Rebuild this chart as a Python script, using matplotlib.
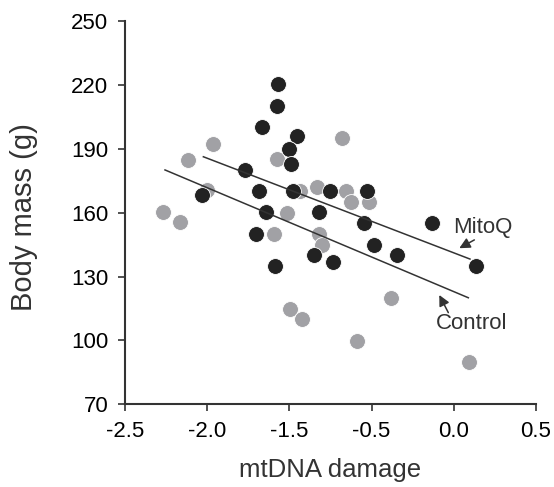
import matplotlib
matplotlib.use('Agg')
import matplotlib.pyplot as plt

plt.rcParams['font.family'] = ['Liberation Sans', 'DejaVu Sans']

# MitoQ group (black)
mitoq_x = [-1.385, -1.388, -1.498, -1.247, -1.305, -1.290, -1.624, -1.936,
           -1.524, -1.276, -1.004, -0.736, -1.469, -1.084, -1.542, -1.407,
           -1.120, -0.984, -0.755, -0.682, -0.515, -0.257, 0.062]
mitoq_y = [220.5, 210.4, 200.3, 196.2, 190.2, 183.0, 180.2, 168.3,
           170.3, 170.3, 170.3, 170.3, 160.2, 160.2, 150.1, 135.0,
           140.1, 136.9, 155.1, 144.9, 140.1, 155.1, 135.0]

# Control group (grey)
control_x = [-1.858, -2.038, -1.393, -0.918, -1.904, -2.220, -2.099, -1.320,
             -1.410, -1.223, -1.101, -0.887, -0.853, -0.721, -1.086, -1.062,
             -1.292, -1.207, -0.809, -0.558, 0.009]
control_y = [192.4, 185.1, 185.2, 195.4, 170.6, 160.2, 155.7, 160.1,
             150.1, 170.4, 172.3, 170.4, 165.1, 165.0, 150.1, 144.9,
             114.8, 110.0, 99.8, 120.0, 89.7]

# fitted lines (end points)
mitoq_line_x = [-1.928, 0.018]
mitoq_line_y = [186.4, 138.3]
control_line_x = [-2.208, 0.006]
control_line_y = [180.2, 120.1]

xtick_labels = ['-2.5', '-2.0', '-1.5', '-0.5', '0.0', '0.5']
yticks = [70, 100, 130, 160, 190, 220, 250]

fig = plt.figure(figsize=(5.54, 4.87), dpi=100)
ax = fig.add_axes([125 / 554, 1 - 404.3 / 487, 411 / 554, (404.3 - 21.5) / 487])

ax.scatter(control_x, control_y, s=130, color='#a1a1a5', edgecolors='white', linewidths=0.6, zorder=2)
ax.scatter(mitoq_x, mitoq_y, s=130, color='#222222', edgecolors='white', linewidths=0.6, zorder=3)

ax.plot(mitoq_line_x, mitoq_line_y, color='#333333', lw=1.1, zorder=4)
ax.plot(control_line_x, control_line_y, color='#333333', lw=1.1, zorder=4)

arrow = dict(arrowstyle='-|>', color='#333333', lw=1.1, mutation_scale=16, shrinkA=0, shrinkB=0)
ax.annotate('', xy=(-0.060, 143.4), xytext=(0.050, 147.3), arrowprops=arrow)
ax.annotate('', xy=(-0.206, 121.4), xytext=(-0.140, 113.1), arrowprops=arrow)
ax.text(0.113, 152.9, 'MitoQ', fontsize=16, color='#333333', ha='center', va='center')
ax.text(0.031, 108.1, 'Control', fontsize=16, color='#333333', ha='center', va='center')

ax.set_xlim(-2.5, 0.5)
ax.set_ylim(70, 250)
ax.set_xticks([-2.5 + 0.6 * i for i in range(6)])
ax.set_xticklabels(xtick_labels)
ax.set_yticks(yticks)

for side in ['top', 'right']:
    ax.spines[side].set_visible(False)
for side in ['left', 'bottom']:
    ax.spines[side].set_color('#333333')
    ax.spines[side].set_linewidth(1.5)
ax.tick_params(axis='both', direction='out', length=5, width=1.2, color='#333333',
               labelsize=16, labelcolor='black', pad=7)

ax.set_xlabel('mtDNA damage', fontsize=18.5, color='#333333', va='top')
ax.xaxis.set_label_coords(0.5, -0.14)
ax.set_ylabel('Body mass (g)', fontsize=21, color='#333333', va='center')
ax.yaxis.set_label_coords(-0.246, 0.49)

fig.savefig('out.png', dpi=100)
